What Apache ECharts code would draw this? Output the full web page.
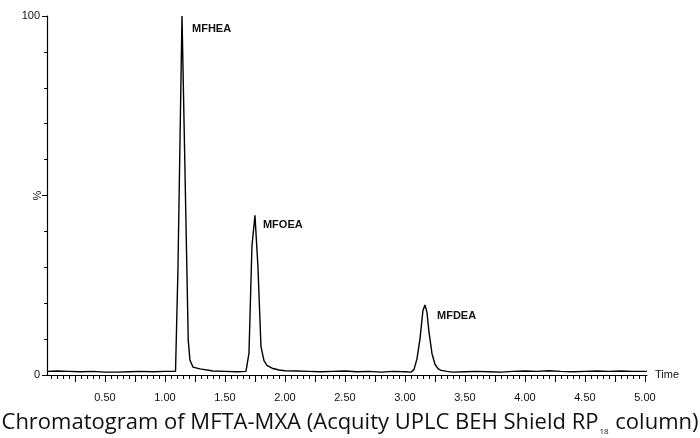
<!DOCTYPE html>
<html>
<head>
<meta charset="utf-8">
<script src="https://cdn.jsdelivr.net/npm/echarts@6/dist/echarts.min.js"></script>
<style>
  html, body { margin: 0; padding: 0; background: #fff; }
  #chart { width: 700px; height: 438px; }
</style>
</head>
<body>
<div id="chart"></div>
<script>
// retention time (min) and relative intensity (%)
const times = [
  0.017, 0.1, 0.2, 0.3, 0.4, 0.5, 0.6, 0.7, 0.8, 0.9, 1.0, 1.05, 1.088,
  1.108, 1.142, 1.194, 1.208, 1.233, 1.292, 1.4, 1.5, 1.6, 1.675,
  1.70, 1.725, 1.75, 1.775, 1.80, 1.825, 1.85, 1.90, 1.95, 2.0,
  2.1, 2.2, 2.3, 2.4, 2.5, 2.6, 2.7, 2.8, 2.9, 3.0, 3.05,
  3.075, 3.10, 3.125, 3.15, 3.167, 3.183, 3.20, 3.225, 3.25, 3.275, 3.3, 3.35,
  3.4, 3.5, 3.6, 3.7, 3.8, 3.9, 4.0, 4.1, 4.2, 4.3, 4.4, 4.5, 4.6, 4.7, 4.8, 4.9, 5.0, 5.017
];
const intensity = [
  1.0, 1.1, 1.0, 0.9, 1.0, 0.8, 0.8, 0.9, 1.0, 0.9, 1.0, 1.0, 1.0,
  29, 100, 9.7, 4.2, 2.2, 1.7, 1.1, 1.0, 0.9, 1.0,
  6, 36, 44.5, 30, 8, 4, 2.7, 1.8, 1.4, 1.2,
  1.1, 1.0, 0.9, 1.0, 1.1, 0.9, 1.0, 0.8, 1.0, 0.9, 0.8,
  1.5, 4.5, 10, 18, 19.5, 17.5, 12, 6, 3, 1.8, 1.3, 1.0,
  0.8, 0.9, 1.0, 0.9, 0.8, 1.0, 1.1, 1.0, 1.2, 1.0, 0.9, 1.0, 1.1, 1.0, 1.1, 1.0, 1.0, 1.0
];
const peakNames = ["MFHEA", "MFOEA", "MFDEA"];
const peakTimes = [1.142, 1.75, 3.167];
const xTickLabels = [0.5, 1.0, 1.5, 2.0, 2.5, 3.0, 3.5, 4.0, 4.5, 5.0];
const yTickLabels = [0, 100];

// label placement next to each peak apex (px)
const labelOffsets = [[10, 13], [8, 10], [12, 11]];

const X_MIN = 0.017, X_MAX = 5.017;
const majorTicks = [];
for (let i = 1; i <= 20; i++) majorTicks.push(+(i * 0.25).toFixed(2));
const minorTicks = [];
for (let i = 1; i <= 100; i++) if (i % 5) minorTicks.push(+(i * 0.05).toFixed(2));

const seriesData = times.map((t, i) => [t, intensity[i]]);
const peakPoints = peakNames.map((n, i) => {
  const idx = times.indexOf(peakTimes[i]);
  return { name: n, coord: [times[idx], intensity[idx]], label: { offset: labelOffsets[i] } };
});

const chart = echarts.init(document.getElementById("chart"));
const axisFont = { fontFamily: "Liberation Sans, Arial, sans-serif", fontSize: 11, color: "#111" };

chart.setOption({
  animation: false,
  textStyle: { fontFamily: "Liberation Sans, Arial, sans-serif" },
  title: {
    left: "center",
    bottom: -1,
    text: "{a|Chromatogram of MFTA-MXA (Acquity UPLC BEH Shield RP}{s|18}{a| column)}",
    textStyle: {
      fontWeight: "normal",
      rich: {
        a: { fontFamily: "Open Sans", fontSize: 22, fontWeight: "normal", color: "#111", lineHeight: 26 },
        s: { fontFamily: "Open Sans", fontSize: 8, fontWeight: "normal", color: "#111", lineHeight: 26, verticalAlign: "bottom", padding: [10, 1, 0, 1] }
      }
    }
  },
  grid: { left: 47, right: 53, top: 16, bottom: 63, outerBoundsMode: "none" },
  xAxis: [
    {
      type: "value",
      min: X_MIN,
      max: X_MAX,
      name: "Time",
      nameLocation: "end",
      nameGap: 8,
      nameTextStyle: axisFont,
      axisLine: { lineStyle: { color: "#000", width: 1.2 } },
      axisTick: { customValues: majorTicks, length: 7, lineStyle: { color: "#000" } },
      axisLabel: Object.assign({
        customValues: xTickLabels,
        margin: 17,
        formatter: v => v.toFixed(2)
      }, axisFont),
      splitLine: { show: false }
    },
    {
      type: "value",
      min: X_MIN,
      max: X_MAX,
      position: "bottom",
      axisLine: { show: false },
      axisTick: { customValues: minorTicks, length: 4, lineStyle: { color: "#000" } },
      axisLabel: { show: false },
      splitLine: { show: false }
    }
  ],
  yAxis: {
    type: "value",
    min: 0,
    max: 100,
    interval: 50,
    name: "%",
    nameLocation: "middle",
    nameGap: 4,
    nameMoveOverlap: false,
    nameTextStyle: axisFont,
    axisLine: { show: true, lineStyle: { color: "#000", width: 1.2 } },
    axisTick: { show: true, length: 5, lineStyle: { color: "#000" } },
    minorTick: { show: true, splitNumber: 5, length: 3, lineStyle: { color: "#000" } },
    axisLabel: Object.assign({ customValues: yTickLabels, margin: 7 }, axisFont),
    splitLine: { show: false }
  },
  series: [
    {
      type: "line",
      data: seriesData,
      showSymbol: false,
      lineStyle: { color: "#000", width: 1.4 },
      markPoint: {
        symbol: "circle",
        symbolSize: 0,
        data: peakPoints,
        label: {
          show: true,
          formatter: p => p.name,
          position: "right",
          distance: 0,
          fontFamily: "Liberation Sans, Arial, sans-serif",
          fontSize: 11,
          fontWeight: "bold",
          color: "#111"
        }
      }
    }
  ]
});
</script>
</body>
</html>
